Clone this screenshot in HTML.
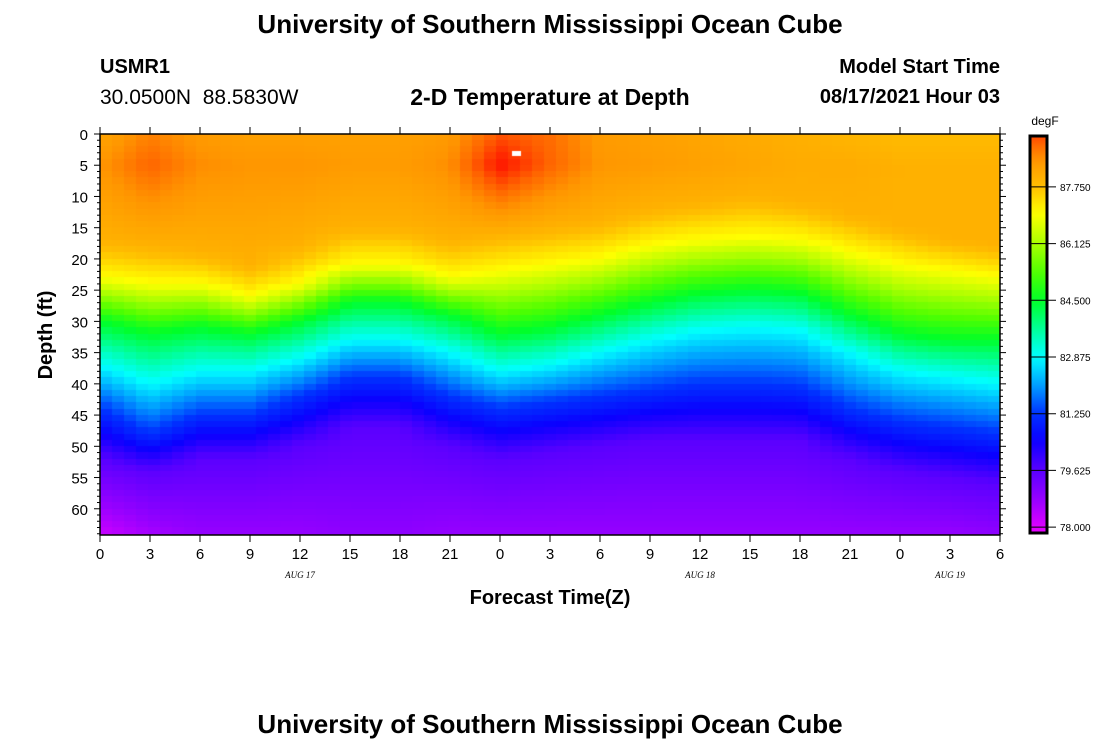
<!DOCTYPE html>
<html><head><meta charset="utf-8"><style>
body{margin:0;background:#fff;width:1100px;height:750px;overflow:hidden;position:relative;font-family:"Liberation Sans",sans-serif}
.t{position:absolute;white-space:nowrap;color:#000}
</style></head><body>
<div class="t" style="left:0;width:1100px;text-align:center;top:9px;font-size:26px;font-weight:bold">University of Southern Mississippi Ocean Cube</div>
<div class="t" style="left:100px;top:56px;font-size:20px;font-weight:bold">USMR1</div>
<div class="t" style="left:100px;top:86px;font-size:21px">30.0500N&nbsp;&nbsp;88.5830W</div>
<div class="t" style="left:350px;width:400px;text-align:center;top:84px;font-size:23px;font-weight:bold">2-D Temperature at Depth</div>
<div class="t" style="right:100px;top:56px;font-size:20px;font-weight:bold">Model Start Time</div>
<div class="t" style="right:100px;top:86px;font-size:20px;font-weight:bold">08/17/2021 Hour 03</div>
<div class="t" style="left:0;width:1100px;text-align:center;top:709px;font-size:26px;font-weight:bold">University of Southern Mississippi Ocean Cube</div>
<canvas id="hm" width="900" height="401" style="position:absolute;left:100px;top:134px"></canvas>
<svg id="ax" width="1100" height="750" style="position:absolute;left:0;top:0"></svg>
<script>
const times=[0,3,6,9,12,15,18,21,24,27,30,33,36,39,42,45,48,51,54];
const timeTickLabels=["0","3","6","9","12","15","18","21","0","3","6","9","12","15","18","21","0","3","6"];
const depthTicks=[0,5,10,15,20,25,30,35,40,45,50,55,60];
const temp0=[88.2,88.7,88.4,88.3,88.3,88.3,88.3,88.4,89.1,88.9,88.4,88.3,88.2,88.1,88.0,87.9,87.8,87.8,87.8];
const temp5=[88.5,89.0,88.6,88.5,88.5,88.4,88.4,88.6,89.6,89.0,88.5,88.4,88.3,88.2,88.1,88.1,88.0,88.0,88.0];
const levels=[88.0,87.0,84.5,82.875,81.25,79.625];
const depth88 =[17,18,19,21,18,15,15,17,16,15,14,12,11,10,11,13,15,17,18];
const depth87 =[23,24,24,26,24,21,21,23,22,21,20,18,17,16.5,17,19,21,22,23];
const depth845=[30,32,31,32,30,27,27,29,32,31,29,27,25.5,25,25.5,29,32,33,33];
const depth829=[37,40,38,38,36,33,33,35,38,37,35,33,31.5,31,31.5,35,38,39,40];
const depth812=[44,48,45,45,42,39,39,42,44,43,42,41,40,40,40.5,44,46,47,48];
const depth796=[52,54,52,52,50,47,47,50,52,51,50,49,49,49,49,52,54,55,56];
const temp64=[78.2,78.6,78.8,78.8,78.8,78.9,78.9,78.8,78.8,78.8,78.8,78.8,78.8,78.8,78.8,78.8,78.8,78.8,78.9];
const cbLabels=["87.750","86.125","84.500","82.875","81.250","79.625","78.000"];
const cbValues=[87.75,86.125,84.5,82.875,81.25,79.625,78.0];

const X0=100,X1=1000,Y0=134,Y1=535,DMAX=64.2,TMAX=54;
const xs=t=>X0+(t/TMAX)*(X1-X0);
const ys=d=>Y0+(d/DMAX)*(Y1-Y0);
const stops=[[77.8,[238,0,255]],[78.8,[150,0,255]],[79.625,[90,0,255]],[80.5,[10,0,255]],[81.25,[0,50,255]],[82.0,[0,150,255]],[82.875,[0,255,255]],[83.4,[0,255,190]],[84.5,[0,255,40]],[85.3,[80,255,0]],[86.125,[170,255,0]],[87.0,[255,255,0]],[87.75,[255,190,0]],[88.5,[255,150,0]],[89.0,[255,100,0]],[89.5,[255,30,0]]];
function col(v){if(v<=stops[0][0])return stops[0][1];for(let i=1;i<stops.length;i++){if(v<=stops[i][0]){const a=stops[i-1],b=stops[i],f=(v-a[0])/(b[0]-a[0]);return a[1].map((c,k)=>Math.round(c+(b[1][k]-c)*f));}}return stops[stops.length-1][1];}
function profile(i,d){
  const ds=[0,5,depth88[i],depth87[i],depth845[i],depth829[i],depth812[i],depth796[i],64.2];
  const vs=[temp0[i],temp5[i],levels[0],levels[1],levels[2],levels[3],levels[4],levels[5],temp64[i]];
  for(let k=1;k<ds.length;k++){if(d<=ds[k]){const f=(d-ds[k-1])/(ds[k]-ds[k-1]);return vs[k-1]+(vs[k]-vs[k-1])*f;}}
  return vs[vs.length-1];
}
function tempAt(t,d){let i=Math.min(times.length-2,Math.floor(t/3));const f=(t-times[i])/(times[i+1]-times[i]);return profile(i,d)*(1-f)+profile(i+1,d)*f;}
const cv=document.getElementById('hm'),ctx=cv.getContext('2d');
const cw=12,chh=6.25;
for(let px=0;px<900;px+=cw){for(let py=0;py<401;py+=chh){
  const t=(px+cw/2)/900*TMAX,d=(py+chh/2)/401*DMAX;
  const c=col(tempAt(t,d));ctx.fillStyle=`rgb(${c[0]},${c[1]},${c[2]})`;
  ctx.fillRect(px,Math.floor(py),cw,Math.ceil(chh)+1);}}
ctx.fillStyle='#fff';ctx.fillRect(412,17,9,5);

const svg=document.getElementById('ax'),NS='http://www.w3.org/2000/svg';
function mk(tag,at,txt){const e=document.createElementNS(NS,tag);for(const k in at)e.setAttribute(k,at[k]);if(txt!=null)e.textContent=txt;svg.appendChild(e);return e;}
let e=mk('rect',{x:X0,y:Y0,width:X1-X0,height:Y1-Y0,fill:'none',stroke:'#000','stroke-width':1.5});


for(let d=0;d<=64;d++){const y=ys(d),maj=d%5==0;
  mk('line',{x1:X0-(maj?6:3),x2:X0,y1:y,y2:y,stroke:'#000'});
  mk('line',{x1:X1,x2:X1+(maj?6:3),y1:y,y2:y,stroke:'#000'});}
depthTicks.forEach(d=>{e=mk('text',{x:88,y:ys(d)+6,'text-anchor':'end','font-size':15,'font-family':'Liberation Sans'},String(d));
  
  });
times.forEach((t,i)=>{const x=xs(t);
  mk('line',{x1:x,x2:x,y1:Y0-7,y2:Y0,stroke:'#000'});
  mk('line',{x1:x,x2:x,y1:Y1,y2:Y1+7,stroke:'#000'});
  e=mk('text',{x:x,y:559,'text-anchor':'middle','font-size':15,'font-family':'Liberation Sans'},timeTickLabels[i]);
  
  });
[["AUG 17",300],["AUG 18",700],["AUG 19",950]].forEach(a=>{e=mk('text',{x:a[1],y:578,'text-anchor':'middle','font-size':9,'font-style':'italic','font-family':'Liberation Serif'},a[0]);
  
  });
e=mk('text',{x:550,y:604,'text-anchor':'middle','font-size':20,'font-weight':'bold','font-family':'Liberation Sans'},'Forecast Time(Z)');


e=mk('text',{x:0,y:0,'text-anchor':'middle','font-size':20,'font-weight':'bold','font-family':'Liberation Sans',transform:'translate(52,335) rotate(-90)'},'Depth (ft)');


const CB0=136,CB1=533,VT=89.21,VB=77.83;
const cy=v=>CB0+(VT-v)/(VT-VB)*(CB1-CB0);
const defs=mk('defs',{});const g=document.createElementNS(NS,'linearGradient');
g.setAttribute('id','cbg');g.setAttribute('x1',0);g.setAttribute('x2',0);g.setAttribute('y1',0);g.setAttribute('y2',1);defs.appendChild(g);
for(let k=0;k<=40;k++){const v=VT-(VT-VB)*k/40,c=col(v),s=document.createElementNS(NS,'stop');s.setAttribute('offset',k/40);s.setAttribute('stop-color',`rgb(${c[0]},${c[1]},${c[2]})`);g.appendChild(s);}
e=mk('rect',{x:1030,y:CB0,width:17,height:CB1-CB0,fill:'url(#cbg)',stroke:'#000','stroke-width':3});


cbValues.forEach((v,i)=>{const y=cy(v);mk('line',{x1:1030,x2:1056,y1:y,y2:y,stroke:'#000'});
  e=mk('text',{x:1060,y:y+4,'font-size':10,'font-family':'Liberation Sans'},cbLabels[i]);
  
  });
e=mk('text',{x:1045,y:125,'text-anchor':'middle','font-size':12,'font-family':'Liberation Sans'},'degF');


</script>
</body></html>
